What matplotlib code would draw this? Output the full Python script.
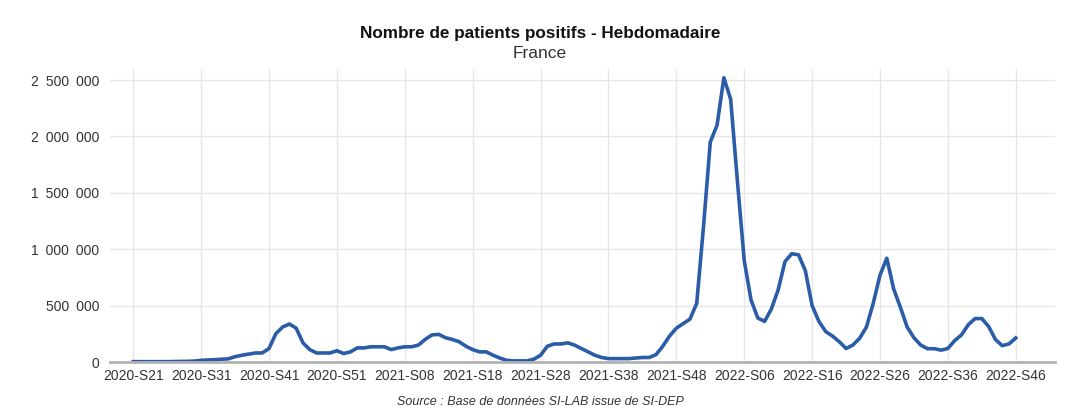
import matplotlib
matplotlib.use('Agg')
import matplotlib.pyplot as plt
from matplotlib.ticker import FuncFormatter

plt.rcParams['font.family'] = ['Liberation Sans', 'DejaVu Sans']

# Semaines : 2020-S21..S53, 2021-S01..S52, 2022-S01..S46
weeks = ([f'2020-S{w:02d}' for w in range(21, 54)] +
         [f'2021-S{w:02d}' for w in range(1, 53)] +
         [f'2022-S{w:02d}' for w in range(1, 47)])

v2020 = [3000, 3000, 3000, 3000, 3000, 3000, 4000, 5000, 6000, 8000,
         15000, 18000, 20000, 25000, 28000, 47000, 60000, 70000, 80000, 80000,
         120000, 250000, 310000, 337000, 300000, 170000, 110000, 80000, 80000, 80000,
         100000, 75000, 90000]
v2021 = [125000, 125000, 135000, 135000, 135000, 110000, 125000, 135000, 135000, 150000,
         200000, 240000, 245000, 215000, 200000, 180000, 140000, 110000, 90000, 90000,
         60000, 35000, 15000, 10000, 10000, 10000, 25000, 60000, 140000, 160000,
         160000, 170000, 150000, 120000, 90000, 60000, 40000, 30000, 30000, 30000,
         30000, 35000, 40000, 40000, 65000, 140000, 230000, 300000, 340000, 380000,
         520000, 1200000]
v2022 = [1950000, 2100000, 2520000, 2330000, 1600000, 900000, 550000, 390000, 360000, 470000,
         640000, 890000, 960000, 950000, 810000, 500000, 360000, 270000, 230000, 180000,
         120000, 150000, 210000, 310000, 520000, 770000, 920000, 650000, 485000, 310000,
         215000, 150000, 118000, 118000, 105000, 120000, 190000, 240000, 330000, 385000,
         385000, 315000, 200000, 145000, 160000, 213000]
values = v2020 + v2021 + v2022

tick_idx = list(range(0, len(weeks), 10))
tick_labels = [weeks[i] for i in tick_idx]

fig = plt.figure(figsize=(10.8, 4.15), dpi=100)
ax = fig.add_axes([0.102, 0.1277, 0.875, 0.7067])

ax.plot(range(len(values)), values, color='#2a5ca8', linewidth=2.6, solid_joinstyle='round')

ax.set_xlim(-3.4, 135.8)
ax.set_ylim(0, 2600000)
ax.set_yticks([0, 500000, 1000000, 1500000, 2000000, 2500000])
ax.yaxis.set_major_formatter(FuncFormatter(lambda v, p: f'{int(v):,}'.replace(',', '\u2002')))
ax.set_xticks(tick_idx)
ax.set_xticklabels(tick_labels)
ax.tick_params(length=0, labelsize=10, colors='#333333')
ax.tick_params(axis='y', pad=8)
ax.tick_params(axis='x', pad=5)
ax.grid(True, color='#e6e6e6', linewidth=1)
ax.set_axisbelow(True)
for s in ['top', 'right', 'left']:
    ax.spines[s].set_visible(False)
ax.spines['bottom'].set_color('#b3b3b3')
ax.spines['bottom'].set_linewidth(2)

fig.text(0.5, 0.92, 'Nombre de patients positifs - Hebdomadaire', ha='center',
         va='center', fontsize=12.3, fontweight='bold', color='#111111')
fig.text(0.5, 0.872, 'France', ha='center', va='center', fontsize=12.5, color='#333333')
fig.text(0.5, 0.031, 'Source : Base de données SI-LAB issue de SI-DEP', ha='center',
         va='center', fontsize=9, style='italic', color='#333333')

fig.savefig('out.png', dpi=100)
